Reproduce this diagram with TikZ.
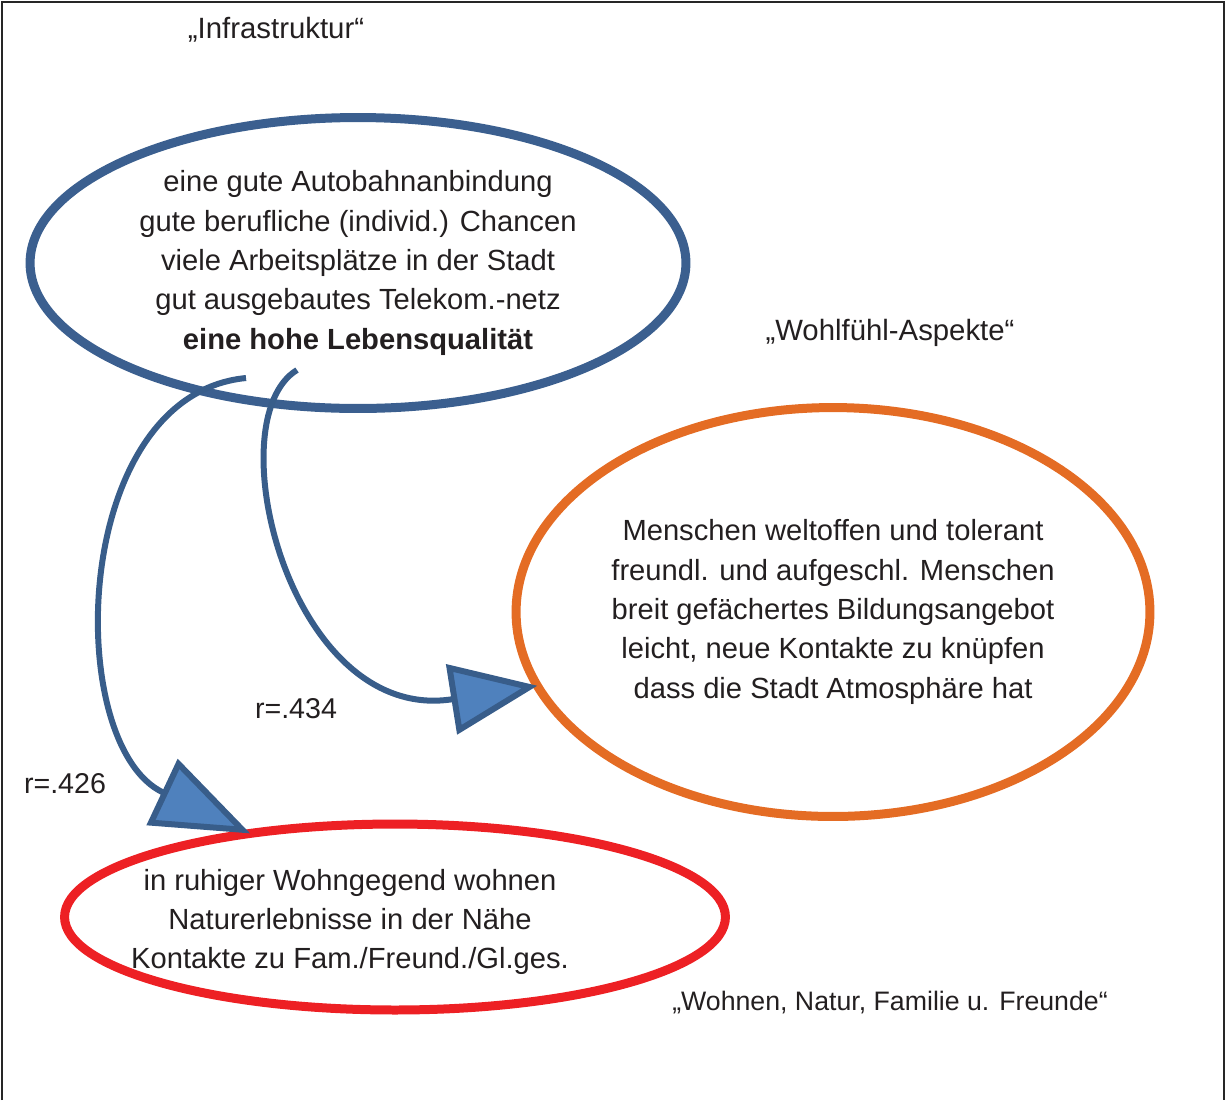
\documentclass[tikz,border=0pt]{standalone}
\usepackage{fontspec}
\setmainfont{Liberation Sans}
\usepackage{tikz}
\usetikzlibrary{shapes.geometric, arrows.meta}
\definecolor{cInfLine}{HTML}{3B5F8F}
\definecolor{cWohlLine}{HTML}{E46C24}
\definecolor{cWohnLine}{HTML}{ED2024}
\definecolor{cArrFill}{HTML}{4F81BD}
\definecolor{cArrLine}{HTML}{385D8A}
\definecolor{cText}{HTML}{231F20}

\begin{document}
\begin{tikzpicture}[x=0.02cm, y=-0.02cm,
  font=\fontsize{16.6}{22.4}\selectfont, text=cText,
  cluster/.style={ellipse, draw, line width=0.18cm, inner sep=0pt, outer sep=0pt, align=center},
  title/.style={font=\fontsize{16.7}{20}\selectfont},
  rlbl/.style={font=\fontsize{16.3}{20}\selectfont},
  link/.style={line width=0.12cm, draw=cArrLine}
]
\useasboundingbox (0,0) rectangle (1226,1100);
\draw[line width=0.04cm, draw=black!85] (2,1100) -- (2,2) -- (1224,2) -- (1224,1100);

% the three clusters
\node[cluster, draw=cInfLine, minimum width=13.12cm, minimum height=5.82cm] (infra) at (358,263)
  {eine gute Autobahnanbindung\\gute berufliche (individ.) Chancen\\viele Arbeitsplätze in der Stadt\\gut ausgebautes Telekom.-netz\\\textbf{eine hohe Lebensqualität}};
\node[cluster, draw=cWohlLine, minimum width=12.68cm, minimum height=8.18cm] (wohl) at (833,612)
  {Menschen weltoffen und tolerant\\freundl. und aufgeschl. Menschen\\breit gefächertes Bildungsangebot\\leicht, neue Kontakte zu knüpfen\\dass die Stadt Atmosphäre hat};
\node[cluster, draw=cWohnLine, minimum width=13.22cm, minimum height=3.72cm] (wohnen) at (395,917) {};
\node[align=center] (wohnenTxt) at (350,922)
  {in ruhiger Wohngegend wohnen\\Naturerlebnisse in der Nähe\\Kontakte zu Fam./Freund./Gl.ges.};

% cluster titles
\node[title] (infraT) at (276,30) {„Infrastruktur“};
\node[title] (wohlT) at (890,333) {„Wohlfühl-Aspekte“};
\node[font=\fontsize{15.2}{18}\selectfont] (wohnenT) at (890,1003) {„Wohnen, Natur, Familie u. Freunde“};

\node[rlbl] (r434) at (296,709) {r=.434};
\node[rlbl] (r426) at (65,784) {r=.426};

\coordinate (infraA) at (246,378);
\coordinate (infraB) at (297,370);
\draw[link, -{Triangle[length=1.95cm, width=1.44cm, fill=cArrFill]}] (infraA) .. controls (70,395) and (62,745) .. (wohnen.150);
\draw[link, -{Triangle[length=1.74cm, width=1.4cm, fill=cArrFill]}] (infraB) .. controls (215,420) and (290,725) .. (wohl.194);
\end{tikzpicture}
\end{document}
